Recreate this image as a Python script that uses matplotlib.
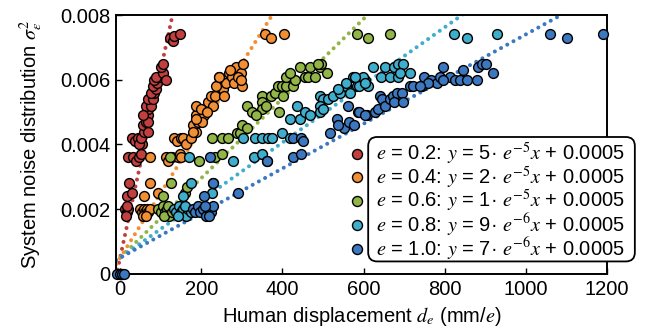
import numpy as np
import matplotlib
matplotlib.use("Agg")
import matplotlib.pyplot as plt
from matplotlib.lines import Line2D
from matplotlib.patches import FancyBboxPatch
from matplotlib.transforms import Bbox, IdentityTransform
from matplotlib.ticker import FuncFormatter

plt.rcParams['font.family'] = ['Liberation Sans', 'DejaVu Sans']
plt.rcParams['mathtext.fontset'] = 'stix'
FS = 14.5

# measured data, one block per e value
e_values = [0.2, 0.4, 0.6, 0.8, 1.0]
colors = ['#c1403f', '#f28f34', '#92b547', '#3fadcc', '#3b78c0']
fit_a = ['5', '2', '1', '9', '7']
fit_exp = ['-5', '-5', '-5', '-6', '-6']
fit_slope = [5.8e-5, 2.0e-5, 1.23e-5, 8.9e-6, 6.9e-6]   # slopes of the drawn fit lines
fit_icept = 0.0005

x_02 = [0, 3, 12, 16, 20, 14, 18, 17, 21, 29, 20, 33, 40, 46, 51, 30, 38, 43, 53,
        46, 51, 58, 56, 63, 68, 70, 63, 75, 70, 80, 83, 75, 88, 80, 92, 83, 95, 88,
        105, 100, 107, 112, 68, 70, 56, 124, 130, 134, 147]
y_02 = [0, 0, 0.0020, 0.0019, 0.0020, 0.0018, 0.0021, 0.0024, 0.0028, 0.0025,
        0.0036, 0.0036, 0.0035, 0.0036, 0.0037, 0.0042, 0.0041, 0.0042, 0.0040,
        0.0040, 0.0042, 0.0044, 0.0046, 0.0047, 0.0049, 0.0051, 0.0052, 0.0052,
        0.0054, 0.0054, 0.0056, 0.0056, 0.0057, 0.0058, 0.0059, 0.0060, 0.0061,
        0.0061, 0.0062, 0.0064, 0.0065, 0.0060, 0.0047, 0.0044, 0.0049, 0.0073,
        0.0072, 0.00735, 0.0074]

x_04 = [0, 48, 53, 58, 62, 66, 70, 73, 57, 65, 60, 93, 73, 73, 112, 118, 127, 142,
        147, 151, 132, 140, 149, 155, 162, 174, 186, 179, 191, 186, 206, 211, 186,
        216, 223, 235, 240, 253, 243, 260, 268, 277, 285, 297, 302, 280, 255, 230,
        203, 300, 188, 200, 213, 237, 245, 270, 290, 299, 179, 356, 373, 405]
y_04 = [0, 0.0020, 0.0019, 0.0020, 0.0019, 0.0020, 0.0019, 0.0020, 0.0018, 0.0018,
        0.0024, 0.0025, 0.0028, 0.0036, 0.0036, 0.0035, 0.0036, 0.0036, 0.0037,
        0.0036, 0.0042, 0.0041, 0.0042, 0.0042, 0.0040, 0.0042, 0.0044, 0.0046,
        0.0047, 0.0049, 0.0049, 0.0051, 0.0052, 0.0053, 0.0055, 0.0055, 0.0058,
        0.0057, 0.0061, 0.0059, 0.0062, 0.0061, 0.0064, 0.0062, 0.0065, 0.0059,
        0.0055, 0.0052, 0.0047, 0.0058, 0.0048, 0.0051, 0.0050, 0.0058, 0.0061,
        0.0063, 0.0061, 0.0060, 0.0044, 0.0074, 0.0073, 0.0074]

x_06 = [0, 93, 100, 105, 110, 115, 120, 125, 108, 118, 127, 107, 125, 159, 164,
        122, 194, 233, 250, 226, 250, 265, 287, 295, 300, 312, 312, 324, 351, 351,
        351, 373, 381, 389, 401, 398, 410, 410, 426, 430, 443, 455, 467, 463, 480,
        492, 496, 509, 487, 391, 418, 360, 335, 585, 611, 665]
y_06 = [0, 0.0020, 0.0019, 0.0021, 0.0019, 0.0020, 0.0018, 0.0020, 0.0018, 0.0021,
        0.0019, 0.0024, 0.0028, 0.0025, 0.0027, 0.0036, 0.0035, 0.0036, 0.0037,
        0.0042, 0.0042, 0.0042, 0.00435, 0.00435, 0.0046, 0.0045, 0.0052, 0.0050,
        0.0055, 0.0053, 0.0051, 0.0055, 0.0056, 0.0058, 0.0055, 0.0058, 0.0058,
        0.0061, 0.0058, 0.0060, 0.0064, 0.0061, 0.0064, 0.0061, 0.0061, 0.0064,
        0.0065, 0.0062, 0.0065, 0.0050, 0.0062, 0.0052, 0.0049, 0.0074, 0.0073,
        0.0074]

x_08 = [2, 132, 138, 145, 150, 156, 162, 168, 174, 160, 142, 154, 176, 226, 228,
        169, 278, 330, 349, 361, 302, 332, 351, 364, 374, 398, 418, 435, 418, 443,
        455, 467, 492, 499, 512, 524, 541, 492, 492, 499, 558, 573, 583, 590, 603,
        610, 566, 598, 603, 623, 644, 652, 665, 676, 684, 697, 714, 684, 690, 578,
        558, 536, 822, 854, 928]
y_08 = [0, 0.0020, 0.0019, 0.0021, 0.0019, 0.0020, 0.0018, 0.0020, 0.0019, 0.0021,
        0.0018, 0.0024, 0.0028, 0.0025, 0.0028, 0.0036, 0.0035, 0.0036, 0.0037,
        0.0035, 0.0042, 0.0042, 0.0042, 0.0042, 0.0042, 0.00435, 0.0042, 0.0052,
        0.0048, 0.0048, 0.0050, 0.0049, 0.0055, 0.0054, 0.0054, 0.0055, 0.0056,
        0.0052, 0.0050, 0.0051, 0.0058, 0.0061, 0.0058, 0.0058, 0.0060, 0.0058,
        0.0056, 0.0061, 0.0059, 0.0064, 0.0061, 0.0064, 0.0061, 0.0064, 0.0065,
        0.0065, 0.0062, 0.0061, 0.0062, 0.0061, 0.0059, 0.0057, 0.0074, 0.0073,
        0.0074]

x_10 = [-8, 0, 5, 9, 179, 185, 192, 198, 205, 212, 218, 224, 228, 210, 220, 206,
        228, 290, 221, 361, 425, 447, 425, 447, 450, 517, 534, 561, 586, 608, 553,
        565, 577, 536, 590, 603, 628, 635, 640, 645, 652, 665, 673, 682, 694, 676,
        714, 721, 743, 750, 767, 780, 795, 788, 812, 825, 837, 845, 854, 879, 882,
        891, 903, 795, 758, 739, 697, 918, 1059, 1101, 1190]
y_10 = [0, 0, 0, 0, 0.0020, 0.0019, 0.0021, 0.0019, 0.0020, 0.0018, 0.0020, 0.0019,
        0.0021, 0.0021, 0.0018, 0.0024, 0.0028, 0.0025, 0.0036, 0.0035, 0.0036,
        0.0037, 0.0042, 0.0042, 0.0041, 0.00435, 0.0048, 0.0052, 0.0050, 0.0049,
        0.0045, 0.0047, 0.0046, 0.0046, 0.0050, 0.0049, 0.0050, 0.0051, 0.0055,
        0.0054, 0.0052, 0.0054, 0.0055, 0.0056, 0.0056, 0.0053, 0.0058, 0.0058,
        0.0058, 0.0061, 0.0060, 0.0059, 0.0064, 0.0061, 0.0061, 0.0060, 0.0060,
        0.0063, 0.0060, 0.0060, 0.0064, 0.0065, 0.0065, 0.0060, 0.0059, 0.0058,
        0.0053, 0.0062, 0.0074, 0.0073, 0.0074]

xs = [x_02, x_04, x_06, x_08, x_10]
ys = [y_02, y_04, y_06, y_08, y_10]

fig = plt.figure(figsize=(6.46, 3.29), dpi=100)
ax = fig.add_axes([0.1796, 0.1672, 0.760, 0.7872])

xlim = (-10, 1200)
xfit = np.linspace(xlim[0], xlim[1], 400)
for k in range(5):
    ax.plot(xfit, fit_slope[k] * xfit + fit_icept, color=colors[k], lw=2.9,
            ls=(0, (0.01, 1.75)), dash_capstyle='round', zorder=2)
for k in range(5):
    ax.scatter(xs[k], ys[k], s=50, c=colors[k], edgecolors='black',
               linewidths=1.0, zorder=3, clip_on=False)

ax.set_xlim(*xlim)
ax.set_ylim(0, 0.008)
ax.set_xticks(np.arange(0, 1201, 200))
ax.set_yticks(np.arange(0, 0.0081, 0.002))
ax.yaxis.set_major_formatter(FuncFormatter(lambda v, p: '0' if abs(v) < 1e-12 else '%.3f' % v))
ax.tick_params(direction='in', length=4, width=1, labelsize=FS, pad=4)
for s in ax.spines.values():
    s.set_linewidth(1.4)

ax.set_xlabel(r'Human displacement $d_e$ (mm/$e$)', fontsize=FS, labelpad=5)
ax.set_ylabel(r'System noise distribution $\sigma_\varepsilon^2$', fontsize=FS, labelpad=11)

# legend: markers outside, rounded frame around the text only
handles = [Line2D([], [], ls='none', marker='o', ms=7.2, mfc=c, mec='black', mew=1.0)
           for c in colors]
labels = [r'$e$ = %.1f: $y$ = %s· $e^{%s}x$ + 0.0005' % (e, a, p)
          for e, a, p in zip(e_values, fit_a, fit_exp)]
px = fig.transFigure.inverted()
leg = fig.legend(handles, labels, loc='upper left',
                 bbox_to_anchor=px.transform((349, 329 - 141)),
                 bbox_transform=fig.transFigure, frameon=False, handlelength=0.8,
                 handletextpad=0.55, labelspacing=-0.13, borderpad=0, borderaxespad=0,
                 fontsize=FS)

fig.canvas.draw()
r = fig.canvas.get_renderer()
bb = Bbox.union([t.get_window_extent(r) for t in leg.get_texts()])
padx, pad_top, pad_bot = 8, 4, -2
box = FancyBboxPatch((bb.x0 - padx, bb.y0 - pad_bot), bb.width + 2 * padx + 2,
                     bb.height + pad_top + pad_bot, transform=IdentityTransform(),
                     boxstyle='round,pad=0,rounding_size=9',
                     facecolor='white', edgecolor='black', lw=1.3, zorder=5)
fig.patches.append(box)
leg.set_zorder(6)

fig.savefig('out.png', dpi=100)
